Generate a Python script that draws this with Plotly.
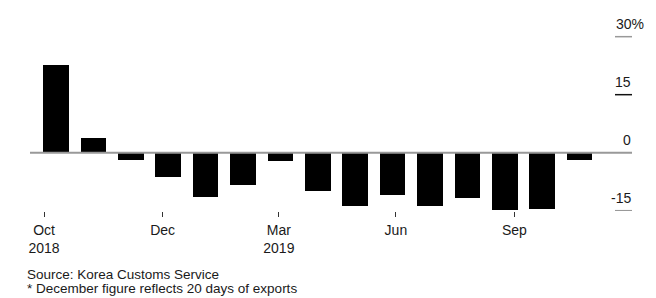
import plotly.graph_objects as go

# Data
months = ["Oct 2018", "Nov 2018", "Dec 2018", "Jan 2019", "Feb 2019", "Mar 2019", "Apr 2019",
          "May 2019", "Jun 2019", "Jul 2019", "Aug 2019", "Sep 2019", "Oct 2019", "Nov 2019", "Dec 2019*"]
export_change = [22.6, 3.7, -1.8, -6.3, -11.5, -8.3, -2.2, -10.0, -13.8, -10.9, -13.8, -11.7, -14.8, -14.5, -1.9]
x_pos = list(range(len(months)))

xtick_vals = [-0.322, 2.85, 5.96, 9.09, 12.26]
xtick_text = ["Oct<br>2018", "Dec", "Mar<br>2019", "Jun", "Sep"]
ytick_vals = [30, 15, 0, -15]
ytick_text = ["30%", "15", "0", "-15"]
ytick_colors = ["#999999", "#111111", "#999999", "#999999"]

FONT = "Liberation Sans"
TXT = "#1a1a1a"

fig = go.Figure()
fig.add_trace(go.Bar(x=x_pos, y=export_change, width=0.685,
                     marker=dict(color="#000000", line=dict(width=0)),
                     hovertext=months, hoverinfo="text+y"))

W, H = 656, 298
L, R, T, B = 30, 24, 10, 87
pw = W - L - R
ph = H - T - B

fig.update_layout(
    width=W, height=H,
    margin=dict(l=L, r=R, t=T, b=B, pad=0),
    paper_bgcolor="white", plot_bgcolor="white",
    showlegend=False,
    font=dict(family=FONT, size=14, color=TXT),
    xaxis=dict(range=[-0.697, 15.405], tickmode="array", tickvals=xtick_vals, ticktext=xtick_text,
               ticks="outside", ticklen=5, tickcolor="#333333", tickwidth=1, ticklabelstandoff=1,
               showgrid=False, zeroline=False, showline=False, fixedrange=True,
               tickfont=dict(family=FONT, size=14, color=TXT)),
    yaxis=dict(range=[-15.08, 36.9], showticklabels=False, showgrid=False, zeroline=False,
               showline=False, ticks="", fixedrange=True),
    bargap=0,
)

# zero line
fig.add_shape(type="line", xref="paper", yref="y", x0=0, x1=1, y0=0, y1=0,
              line=dict(color="#999999", width=2), layer="above")

# right-side tick lines and labels
x_tick_start = (615 - L) / pw
for v, t, c in zip(ytick_vals, ytick_text, ytick_colors):
    if v != 0:
        fig.add_shape(type="line", xref="paper", yref="y", x0=x_tick_start, x1=1, y0=v, y1=v,
                      line=dict(color=c, width=1.5))
    if t.endswith("%"):
        fig.add_annotation(xref="paper", yref="y", x=x_tick_start, y=v, text=t, showarrow=False,
                           xanchor="left", yanchor="middle", yshift=13, borderpad=0,
                           font=dict(family=FONT, size=14, color=TXT))
    else:
        fig.add_annotation(xref="paper", yref="y", x=1, y=v, text=t, showarrow=False,
                           xanchor="right", yanchor="middle", yshift=13, borderpad=0,
                           font=dict(family=FONT, size=14, color=TXT))

# footnotes
fig.add_annotation(xref="paper", yref="paper", x=(26 - L) / pw, y=(211 - 274) / ph,
                   text="Source: Korea Customs Service", showarrow=False, xanchor="left",
                   yanchor="middle", borderpad=0, font=dict(family=FONT, size=13.5, color=TXT))
fig.add_annotation(xref="paper", yref="paper", x=(26 - L) / pw, y=(211 - 288.5) / ph,
                   text="* December figure reflects 20 days of exports", showarrow=False, xanchor="left",
                   yanchor="middle", borderpad=0, font=dict(family=FONT, size=13.5, color=TXT))

fig.write_html("out.html", config={"displayModeBar": False})
